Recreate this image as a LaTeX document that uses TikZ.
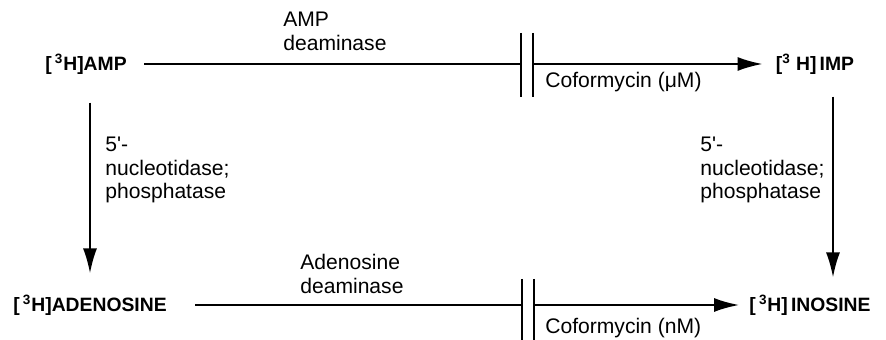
\documentclass[tikz,border=0pt]{standalone}
\usepackage{fontspec}
\setmainfont{Liberation Sans}
\usetikzlibrary{arrows.meta}
\tikzset{
  cpd/.style={font=\bfseries\fontsize{11}{13}\selectfont, inner sep=0pt},
  enz/.style={font=\fontsize{12}{13.6}\selectfont, align=left, anchor=west, inner sep=0pt},
  rxn/.style={line width=1.1pt, -{Latex[length=0.5cm,width=0.28cm]}},
  cut/.style={line width=1.1pt},
}
\begin{document}
\begin{tikzpicture}[x=0.02cm,y=-0.02cm]
    \useasboundingbox (0,0) rectangle (886,340);
    %% compounds
    \node[cpd] (amp) at (86,64) {[\,\textsuperscript{3}H]AMP};
    \node[cpd] (imp) at (815,64) {[\textsuperscript{3} H]\,IMP};
    \node[cpd] (ado) at (90,305) {[\,\textsuperscript{3}H]ADENOSINE};
    \node[cpd] (ino) at (810,305) {[\,\textsuperscript{3}H]\,INOSINE};
    %% blocks by coformycin
    \coordinate (cutA) at (521,64);
    \coordinate (cutB) at (533,64);
    \coordinate (cutC) at (522,305);
    \coordinate (cutD) at (534,305);
    \coordinate (rx) at (833,0);
    %% horizontal
    \draw[cut, shorten <=0.34cm] (amp.east) -- (cutA);
    \draw[rxn, shorten >=0.26cm] (cutB) -- (cutB -| imp.west);
    \draw[cut, shorten <=0.56cm] (ado.east) -- (cutC);
    \draw[rxn, shorten >=0.2cm] (cutD) -- (cutD -| ino.west);
    \draw[cut] (cutA) ++(0,-31) -- ++(0,64);
    \draw[cut] (cutB) ++(0,-31) -- ++(0,64);
    \draw[cut] (cutC) ++(0,-26) -- ++(0,61);
    \draw[cut] (cutD) ++(0,-26) -- ++(0,61);
    %% vertical
    \draw[rxn, shorten <=0.56cm, shorten >=0.42cm] (amp.south -| ado.north) -- (ado.north);
    \draw[rxn, shorten <=0.44cm, shorten >=0.34cm] (imp.south -| rx) -- (ino.north -| rx);
    %% enzyme labels
    \node[enz] (ampdeam) at (283,31) {AMP\\deaminase};
    \node[enz] (cofoM) at (545,82) {Coformycin (μM)};
    \node[enz] (adodeam) at (300,274) {Adenosine\\deaminase};
    \node[enz] (cofoN) at (545,328) {Coformycin (nM)};
    \node[enz] (ntL) at (105,170) {5\textquotesingle-\\nucleotidase;\\phosphatase};
    \node[enz] (ntR) at (700,170) {5\textquotesingle-\\nucleotidase;\\phosphatase};
\end{tikzpicture}
\end{document}
